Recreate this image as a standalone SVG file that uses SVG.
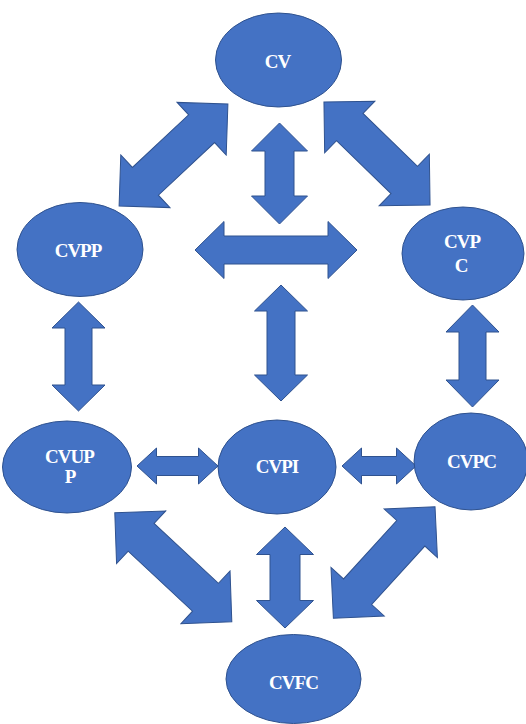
<svg xmlns="http://www.w3.org/2000/svg" width="526" height="724" viewBox="0 0 526 724">
<style>
.arrow{fill:#4472C4;stroke:#2F528F;stroke-width:1}
.node{fill:#4472C4;stroke:#2F528F;stroke-width:1}
.lbl{fill:#ffffff;font-family:"Liberation Serif","Times New Roman",serif;font-weight:bold;font-size:19px;letter-spacing:-1px;text-anchor:middle}
</style>
<rect width="526" height="724" fill="#ffffff"/>
<g id="connectors">
<polygon class="arrow" transform="translate(173.5,155) rotate(-43.1)" points="-74.5,0 -38.5,-36 -38.5,-19 38.5,-19 38.5,-36 74.5,0 38.5,36 38.5,19 -38.5,19 -38.5,36"/>
<polygon class="arrow" transform="translate(377,153.5) rotate(44.2)" points="-74,0 -38,-36 -38,-19 38,-19 38,-36 74,0 38,36 38,19 -38,19 -38,36"/>
<polygon class="arrow" points="279.5,123 307.5,151 294,151 294,196 307.5,196 279.5,224 251.5,196 265,196 265,151 251.5,151"/>
<polygon class="arrow" points="195,250 224,221.5 224,236 328,236 328,221.5 357,250 328,278.5 328,264 224,264 224,278.5"/>
<polygon class="arrow" points="78.5,302 105,328 92,328 92,385 105,385 78.5,411 52,385 65,385 65,328 52,328"/>
<polygon class="arrow" points="472.5,305 499,332 486,332 486,380 499,380 472.5,407 446,380 459,380 459,332 446,332"/>
<polygon class="arrow" points="281,285 307.5,311 295,311 295,375 307.5,375 281,401 254.5,375 267,375 267,311 254.5,311"/>
<polygon class="arrow" points="137,466 156.5,448 156.5,456.5 198.5,456.5 198.5,448 218,466 198.5,484 198.5,475.5 156.5,475.5 156.5,484"/>
<polygon class="arrow" points="342,466 361.5,448 361.5,456.5 396.5,456.5 396.5,448 416,466 396.5,484 396.5,475.5 361.5,475.5 361.5,484"/>
<polygon class="arrow" transform="translate(173.3,567.3) rotate(43)" points="-80,0 -44,-36 -44,-19 44,-19 44,-36 80,0 44,36 44,19 -44,19 -44,36"/>
<polygon class="arrow" points="285,527 313.5,554.5 300,554.5 300,600.5 313.5,600.5 285,628 256.5,600.5 270,600.5 270,554.5 256.5,554.5"/>
<polygon class="arrow" transform="translate(384.2,562.5) rotate(-47.7)" points="-75.5,0 -39.5,-36 -39.5,-19 39.5,-19 39.5,-36 75.5,0 39.5,36 39.5,19 -39.5,19 -39.5,36"/>
</g>
<g id="cv"><ellipse class="node" cx="278.5" cy="60" rx="63" ry="47"/><text class="lbl" x="277.5" y="68">CV</text></g>
<g id="cvpp"><ellipse class="node" cx="80" cy="249.5" rx="63" ry="47"/><text class="lbl" x="78" y="256.5">CVPP</text></g>
<g id="cvpc-top"><ellipse class="node" cx="463" cy="253.5" rx="61" ry="46.5"/><text class="lbl" x="462" y="248">CVP</text><text class="lbl" x="461" y="271.5">C</text></g>
<g id="cvupp"><ellipse class="node" cx="67" cy="467" rx="64.5" ry="46"/><text class="lbl" x="69.5" y="462.5">CVUP</text><text class="lbl" x="70" y="483">P</text></g>
<g id="cvpi"><ellipse class="node" cx="277" cy="467" rx="59" ry="47"/><text class="lbl" x="277" y="473">CVPI</text></g>
<g id="cvpc"><ellipse class="node" cx="471" cy="461.5" rx="57" ry="48.5"/><text class="lbl" x="471.5" y="468">CVPC</text></g>
<g id="cvfc"><ellipse class="node" cx="293.5" cy="679" rx="67.5" ry="44.5"/><text class="lbl" x="293.5" y="689">CVFC</text></g>
</svg>
